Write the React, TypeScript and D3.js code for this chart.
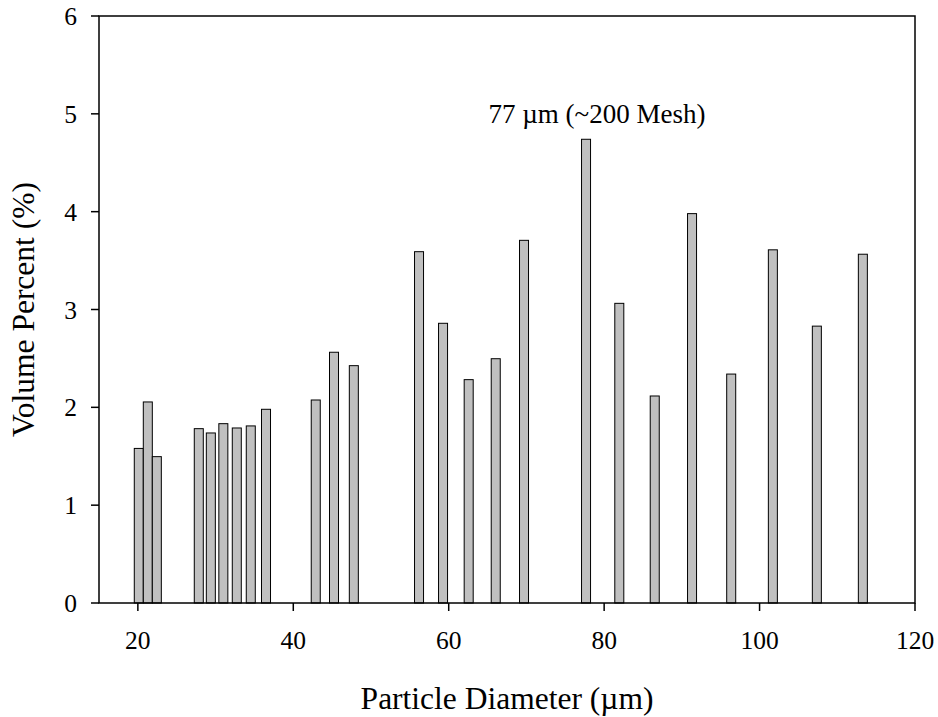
import React from "react";
import * as d3 from "d3";

const diameters = [20.12, 21.28, 22.44, 27.84, 29.39, 31.0, 32.73, 34.53, 36.49, 42.89, 45.24, 47.79, 56.18, 59.27, 62.57, 66.05, 69.69, 77.67, 81.95, 86.51, 91.31, 96.35, 101.71, 107.37, 113.29];
const volumePercent = [1.58, 2.055, 1.496, 1.782, 1.738, 1.833, 1.789, 1.81, 1.98, 2.075, 2.563, 2.426, 3.591, 2.859, 2.283, 2.497, 3.707, 4.74, 3.063, 2.116, 3.98, 2.34, 3.61, 2.83, 3.565];
const xTicks = [20, 40, 60, 80, 100, 120];
const yTicks = [0, 1, 2, 3, 4, 5, 6];
const xDomain = [15, 120];
const yDomain = [0, 6];
const annotationText = "77 \u00b5m (~200 Mesh)";
const xTitle = "Particle Diameter (\u00b5m)";
const yTitle = "Volume Percent (%)";
const BAR_WIDTH_UM = 1.16;

const W = 938, H = 717;
const L = 99, R = 915, T = 16, B = 603;
const FONT = "'Liberation Serif', 'Times New Roman', serif";

export default function App() {
  const x = d3.scaleLinear().domain(xDomain).range([L, R]);
  const y = d3.scaleLinear().domain(yDomain).range([B, T]);
  const bw = x(xDomain[0] + BAR_WIDTH_UM) - x(xDomain[0]);
  const data = diameters.map((d, i) => ({ d, v: volumePercent[i] }));
  return (
    <svg width={W} height={H} style={{ position: "absolute", left: 0, top: 0, background: "#fff" }} fontFamily={FONT}>
      <rect x={0} y={0} width={W} height={H} fill="#fff" />
      {data.map((p, i) => (
        <rect key={i} x={x(p.d) - bw / 2} y={y(p.v)} width={bw} height={y(0) - y(p.v)} fill="#c0c0c0" stroke="#000" strokeWidth={1} />
      ))}
      <rect x={L} y={T} width={R - L} height={B - T} fill="none" stroke="#000" strokeWidth={1.5} />
      {yTicks.map((t) => (
        <g key={"y" + t}>
          <line x1={L - 8} x2={L} y1={y(t)} y2={y(t)} stroke="#000" strokeWidth={1.5} />
          <text x={77} y={y(t) + 9} textAnchor="end" fontSize={25.5} fill="#000">{t}</text>
        </g>
      ))}
      {xTicks.map((t) => (
        <g key={"x" + t}>
          <line x1={x(t)} x2={x(t)} y1={B} y2={B + 8} stroke="#000" strokeWidth={1.5} />
          <text x={x(t)} y={649} textAnchor="middle" fontSize={25.5} fill="#000">{t}</text>
        </g>
      ))}
      <text x={(L + R) / 2} y={709} textAnchor="middle" fontSize={31.5} fill="#000">{xTitle}</text>
      <text transform={`translate(34, ${(T + B) / 2}) rotate(-90)`} textAnchor="middle" fontSize={31.5} fill="#000">{yTitle}</text>
      <text x={597} y={123} textAnchor="middle" fontSize={27} fill="#000">{annotationText}</text>
    </svg>
  );
}
